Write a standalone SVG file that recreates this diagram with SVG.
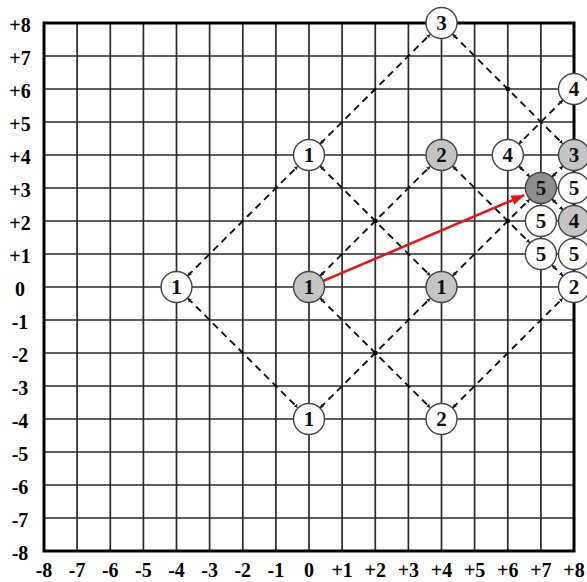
<svg xmlns="http://www.w3.org/2000/svg" width="587" height="582" viewBox="0 0 587 582">
<style>
.grid{stroke:#2a2a2a;stroke-width:1.7;fill:none}
.border{stroke:#000;stroke-width:3;fill:none}
.ax{font-family:"Liberation Serif","Times New Roman",serif;font-weight:bold;font-size:20px;fill:#000;text-anchor:middle}
.dash{stroke:#111;stroke-width:1.9;stroke-dasharray:7,5;fill:none;marker-start:url(#tick);marker-end:url(#tick)}
.n circle{stroke:#444;stroke-width:1.4}
.w{fill:#fff}.g{fill:#c4c4c4}.d{fill:#8e8e8e}
.n text{font-family:"Liberation Serif","Times New Roman",serif;font-weight:bold;font-size:21px;fill:#111;text-anchor:middle}
.dot{fill:#000}
</style>
<defs>
<marker id="tick" markerUnits="userSpaceOnUse" markerWidth="6" markerHeight="6" refX="4" refY="3" orient="auto-start-reverse"><path d="M0,1 L4,3 L0,5 z" fill="#222"/></marker>
<marker id="red" markerUnits="userSpaceOnUse" markerWidth="14" markerHeight="10" refX="13" refY="5" orient="auto"><path d="M0,0 L13,5 L0,10 z" fill="#ee1111"/></marker>
</defs>
<g id="grid">
<path class="grid" d="M77.1,23V551M110.3,23V551M143.4,23V551M176.5,23V551M209.6,23V551M242.8,23V551M275.9,23V551M309,23V551M342.1,23V551M375.3,23V551M408.4,23V551M441.5,23V551M474.6,23V551M507.8,23V551M540.9,23V551"/>
<path class="grid" d="M44,56H574M44,89H574M44,122H574M44,155H574M44,188H574M44,221H574M44,254H574M44,287H574M44,320H574M44,353H574M44,386H574M44,419H574M44,452H574M44,485H574M44,518H574"/>
<rect class="border" x="44" y="23" width="530" height="528"/>
</g>
<g id="axis-labels">
<text class="ax" x="20" y="32">+8</text>
<text class="ax" x="20" y="65">+7</text>
<text class="ax" x="20" y="98">+6</text>
<text class="ax" x="20" y="131">+5</text>
<text class="ax" x="20" y="164">+4</text>
<text class="ax" x="20" y="197">+3</text>
<text class="ax" x="20" y="230">+2</text>
<text class="ax" x="20" y="263">+1</text>
<text class="ax" x="20" y="296">0</text>
<text class="ax" x="20" y="329">-1</text>
<text class="ax" x="20" y="362">-2</text>
<text class="ax" x="20" y="395">-3</text>
<text class="ax" x="20" y="428">-4</text>
<text class="ax" x="20" y="461">-5</text>
<text class="ax" x="20" y="494">-6</text>
<text class="ax" x="20" y="527">-7</text>
<text class="ax" x="20" y="560">-8</text>
<text class="ax" x="44" y="577">-8</text>
<text class="ax" x="77.1" y="577">-7</text>
<text class="ax" x="110.3" y="577">-6</text>
<text class="ax" x="143.4" y="577">-5</text>
<text class="ax" x="176.5" y="577">-4</text>
<text class="ax" x="209.6" y="577">-3</text>
<text class="ax" x="242.8" y="577">-2</text>
<text class="ax" x="275.9" y="577">-1</text>
<text class="ax" x="309" y="577">0</text>
<text class="ax" x="342.1" y="577">+1</text>
<text class="ax" x="375.3" y="577">+2</text>
<text class="ax" x="408.4" y="577">+3</text>
<text class="ax" x="441.5" y="577">+4</text>
<text class="ax" x="474.6" y="577">+5</text>
<text class="ax" x="507.8" y="577">+6</text>
<text class="ax" x="540.9" y="577">+7</text>
<text class="ax" x="574" y="577">+8</text>
</g>
<g id="connectors">
<path class="dash" d="M187.5,276L298,166"/>
<path class="dash" d="M320,144L430.5,34"/>
<path class="dash" d="M187.5,298L298,408"/>
<path class="dash" d="M320,166L430.5,276"/>
<path class="dash" d="M320,276L430.5,166"/>
<path class="dash" d="M320,298L430.5,408"/>
<path class="dash" d="M320,408L430.5,298"/>
<path class="dash" d="M452.5,34L563,144"/>
<path class="dash" d="M452.5,166L529.9,243"/>
<path class="dash" d="M452.5,276L529.9,199"/>
<path class="dash" d="M452.5,408L563,298"/>
<path class="dash" d="M563,100L518.8,144"/>
<path class="dash" d="M518.8,166L529.9,177"/>
<path class="dash" d="M551.9,177L563,166"/>
<path class="dash" d="M551.9,199L563,210"/>
<path class="dash" d="M551.9,265L563,276"/>
<rect class="dot" x="373.3" y="219" width="4" height="4"/>
<rect class="dot" x="373.3" y="351" width="4" height="4"/>
<rect class="dot" x="505.8" y="219" width="4" height="4"/>
<rect class="dot" x="505.8" y="87" width="4" height="4"/>
<path d="M323.3,280.9L524.3,195.1" stroke="#ee1111" stroke-width="2.5" fill="none" marker-end="url(#red)"/>
</g>
<g id="n-m4-0" class="n"><circle class="w" cx="176.5" cy="287" r="15.5"/><text x="176.5" y="294">1</text></g>
<g id="n-0-4" class="n"><circle class="w" cx="309" cy="155" r="15.5"/><text x="309" y="162">1</text></g>
<g id="n-0-0" class="n"><circle class="g" cx="309" cy="287" r="15.5"/><text x="309" y="294">1</text></g>
<g id="n-0-m4" class="n"><circle class="w" cx="309" cy="419" r="15.5"/><text x="309" y="426">1</text></g>
<g id="n-4-8" class="n"><circle class="w" cx="441.5" cy="23" r="15.5"/><text x="441.5" y="30">3</text></g>
<g id="n-4-4" class="n"><circle class="g" cx="441.5" cy="155" r="15.5"/><text x="441.5" y="162">2</text></g>
<g id="n-4-0" class="n"><circle class="g" cx="441.5" cy="287" r="15.5"/><text x="441.5" y="294">1</text></g>
<g id="n-4-m4" class="n"><circle class="w" cx="441.5" cy="419" r="15.5"/><text x="441.5" y="426">2</text></g>
<g id="n-6-4" class="n"><circle class="w" cx="507.8" cy="155" r="15.5"/><text x="507.8" y="162">4</text></g>
<g id="n-8-6" class="n"><circle class="w" cx="574" cy="89" r="15.5"/><text x="574" y="96">4</text></g>
<g id="n-8-4" class="n"><circle class="g" cx="574" cy="155" r="15.5"/><text x="574" y="162">3</text></g>
<g id="n-7-3" class="n"><circle class="d" cx="540.9" cy="188" r="15.5"/><text x="540.9" y="195">5</text></g>
<g id="n-8-3" class="n"><circle class="w" cx="574" cy="188" r="15.5"/><text x="574" y="195">5</text></g>
<g id="n-7-2" class="n"><circle class="w" cx="540.9" cy="221" r="15.5"/><text x="540.9" y="228">5</text></g>
<g id="n-8-2" class="n"><circle class="g" cx="574" cy="221" r="15.5"/><text x="574" y="228">4</text></g>
<g id="n-7-1" class="n"><circle class="w" cx="540.9" cy="254" r="15.5"/><text x="540.9" y="261">5</text></g>
<g id="n-8-1" class="n"><circle class="w" cx="574" cy="254" r="15.5"/><text x="574" y="261">5</text></g>
<g id="n-8-0" class="n"><circle class="w" cx="574" cy="287" r="15.5"/><text x="574" y="294">2</text></g>
</svg>
